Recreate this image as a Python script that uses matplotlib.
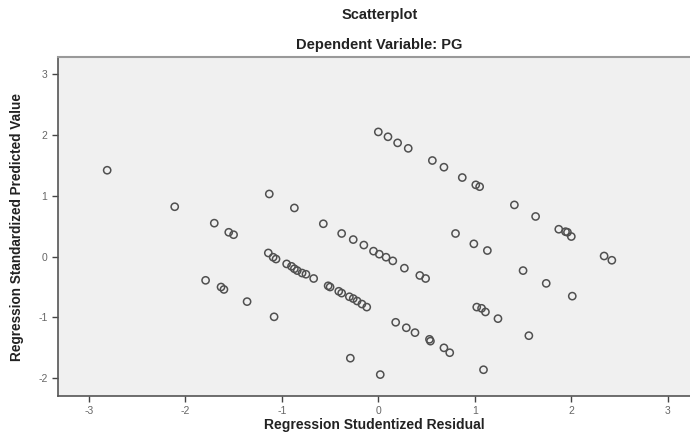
import matplotlib
matplotlib.use('Agg')
import matplotlib.pyplot as plt

# Datos (residuo studentizado vs valor pronosticado tipificado)
residual = [
    0.00, 0.10, 0.20, 0.31, 0.56, 0.68, 0.87, 1.01, 1.05, 1.41, 1.63, 1.87, 1.94, 1.96, 2.00, 2.34, 2.42,
    -1.13, -0.87, -0.57, -0.38, -0.26, -0.15, -0.05, 0.01, 0.08, 0.15, 0.27, 0.43, 0.49,
    0.80, 0.99, 1.13, 1.50, 1.74, 2.01,
    -2.81, -2.11, -1.70, -1.55, -1.50,
    -1.14, -1.09, -1.06, -0.95, -0.90, -0.87, -0.84, -0.79, -0.75, -0.67, -0.52, -0.50,
    -0.41, -0.38, -0.30, -0.26, -0.22, -0.17, -0.12,
    0.18, 0.29, 0.38, 0.53, 0.54, 0.68, 0.74,
    1.02, 1.07, 1.11, 1.24, 1.56,
    -1.79, -1.63, -1.60, -1.36, -1.08,
    -0.29, 0.02, 1.09,
]
predicted = [
    2.05, 1.97, 1.87, 1.78, 1.58, 1.47, 1.30, 1.18, 1.15, 0.85, 0.66, 0.45, 0.41, 0.40, 0.33, 0.01, -0.06,
    1.03, 0.80, 0.54, 0.38, 0.28, 0.19, 0.09, 0.04, -0.01, -0.07, -0.19, -0.31, -0.36,
    0.38, 0.21, 0.10, -0.23, -0.44, -0.65,
    1.42, 0.82, 0.55, 0.40, 0.36,
    0.06, -0.01, -0.04, -0.12, -0.16, -0.20, -0.23, -0.27, -0.29, -0.36, -0.48, -0.50,
    -0.57, -0.60, -0.66, -0.69, -0.73, -0.78, -0.83,
    -1.08, -1.17, -1.25, -1.36, -1.39, -1.50, -1.58,
    -0.83, -0.85, -0.91, -1.02, -1.30,
    -0.39, -0.50, -0.54, -0.74, -0.99,
    -1.67, -1.94, -1.86,
]
ticks = [-3, -2, -1, 0, 1, 2, 3]
yticks = [-2, -1, 0, 1, 2, 3]

plt.rcParams['font.family'] = ['Liberation Sans', 'DejaVu Sans']
plt.rcParams['axes.unicode_minus'] = False

fig = plt.figure(figsize=(6.9, 4.36), dpi=100, facecolor='white')
ax = fig.add_axes([0.084, 0.092, 0.916, 0.777])
ax.set_facecolor('#f0f0f0')

ax.scatter(residual, predicted, s=27, facecolors='none', edgecolors='#505050',
           linewidths=1.1, zorder=3)

ax.set_xlim(-3.32, 3.23)
ax.set_ylim(-2.29, 3.28)
ax.set_xticks(ticks)
ax.set_yticks(yticks)
ax.tick_params(axis='both', direction='out', length=4, width=1, color='#444',
               labelsize=7.5, labelcolor='#666')

for side in ['left', 'bottom']:
    ax.spines[side].set_color('#555')
    ax.spines[side].set_linewidth(1.2)
ax.spines['top'].set_color('#999')
ax.spines['top'].set_linewidth(1.5)
ax.spines['right'].set_visible(False)

ax.set_xlabel('Regression Studentized Residual', fontsize=10, fontweight='bold',
              color='#222', labelpad=1)
ax.set_ylabel('Regression Standardized Predicted Value', fontsize=9.8, fontweight='bold',
              color='#222', labelpad=10)

fig.text(0.55, 0.965, 'Scatterplot', ha='center', va='center', fontsize=10.5,
         fontweight='bold', color='#222')
fig.text(0.55, 0.897, 'Dependent Variable: PG', ha='center', va='center', fontsize=10.5,
         fontweight='bold', color='#222')

fig.savefig('out.png', dpi=100, facecolor='white')
